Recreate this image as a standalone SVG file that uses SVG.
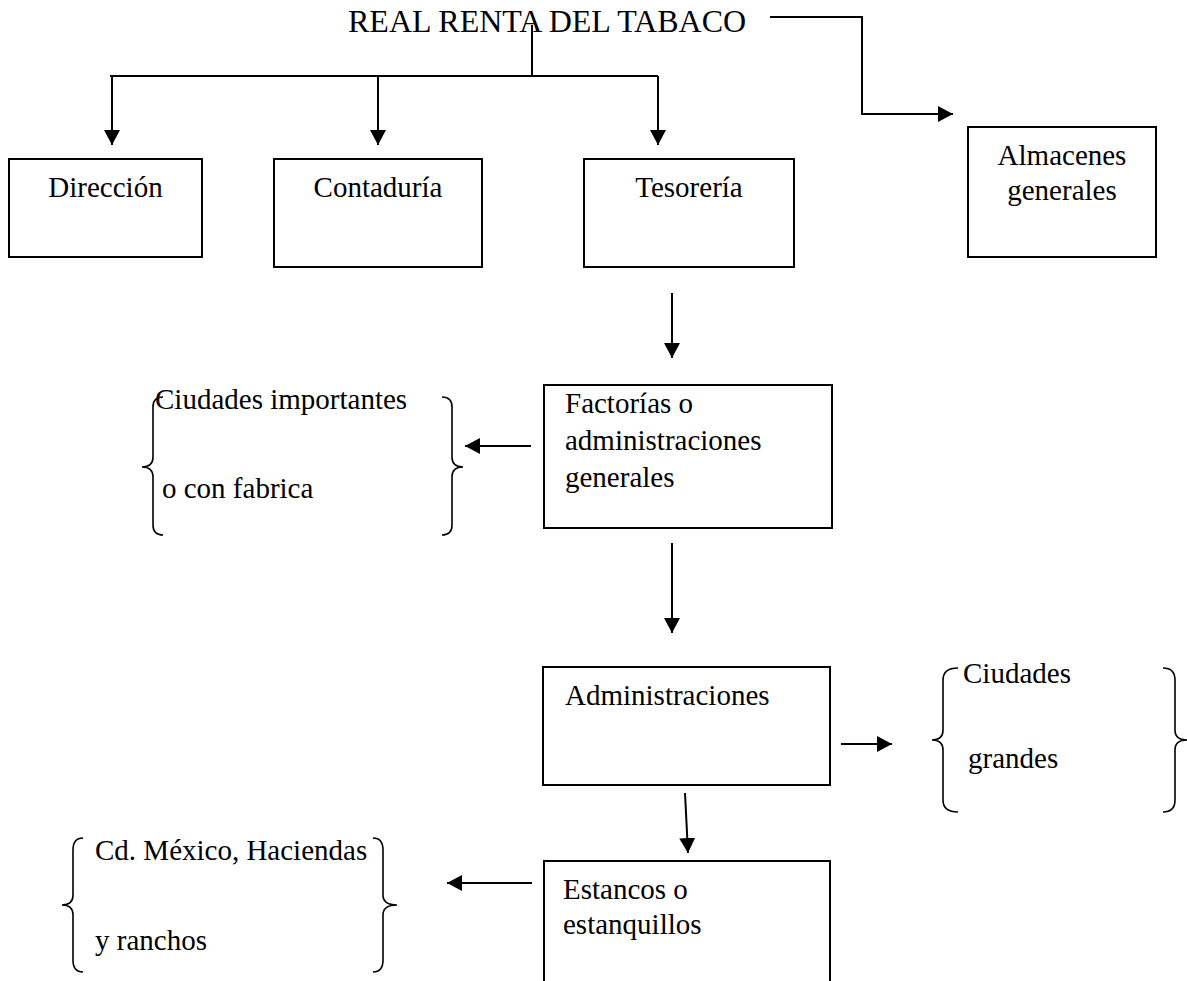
<svg xmlns="http://www.w3.org/2000/svg" width="1187" height="981" viewBox="0 0 1187 981">
<defs>
<marker id="ah" markerUnits="userSpaceOnUse" markerWidth="16" markerHeight="16" refX="15" refY="8" orient="auto">
<path d="M0,0 L15,8 L0,16 z" fill="#000"/>
</marker>
<style>
text{font-family:"Liberation Serif","Times New Roman",serif;font-size:29px;fill:#000}
.box{fill:#fff;stroke:#000;stroke-width:2}
.c{fill:none;stroke:#000;stroke-width:2}
.a{fill:none;stroke:#000;stroke-width:2;marker-end:url(#ah)}
.br{fill:none;stroke:#000;stroke-width:1.6}
</style>
</defs>
<rect width="1187" height="981" fill="#fff"/>
<g id="connectors">
<path class="c" d="M532,25 V76 M110,76 H658"/>
<path class="a" d="M112,76 V145"/>
<path class="a" d="M378,76 V145"/>
<path class="a" d="M658,76 V145"/>
<path class="a" d="M770,17 H862 V114 H953"/>
<path class="a" d="M672,293 V358"/>
<path class="a" d="M531,446 H465"/>
<path class="a" d="M672,543 V633"/>
<path class="a" d="M841,744 H892"/>
<path class="a" d="M685,793 L688,853"/>
<path class="a" d="M532,883 H447"/>
</g>
<g id="title"><text x="348" y="32" style="font-size:32px">REAL RENTA DEL TABACO</text></g>
<g id="direccion"><rect class="box" x="9" y="159" width="193" height="98"/><text x="105.5" y="197" text-anchor="middle">Dirección</text></g>
<g id="contaduria"><rect class="box" x="274" y="159" width="208" height="108"/><text x="378" y="197" text-anchor="middle">Contaduría</text></g>
<g id="tesoreria"><rect class="box" x="584" y="159" width="210" height="108"/><text x="689" y="197" text-anchor="middle">Tesorería</text></g>
<g id="almacenes"><rect class="box" x="968" y="127" width="188" height="130"/><text x="1062" y="165" text-anchor="middle">Almacenes</text><text x="1062" y="200" text-anchor="middle">generales</text></g>
<g id="factorias"><rect class="box" x="544" y="385" width="288" height="143"/><text x="565" y="413">Factorías o</text><text x="565" y="450">administraciones</text><text x="565" y="487">generales</text></g>
<g id="ciudades-importantes">
<path class="br" d="M163,397 Q153,397 153,407 L153,457 Q153,467 142,467 Q153,467 153,477 L153,525 Q153,535 163,535"/>
<path class="br" d="M442,397 Q452,397 452,407 L452,457 Q452,467 463,467 Q452,467 452,477 L452,525 Q452,535 442,535"/>
<text x="155" y="409">Ciudades importantes</text><text x="162" y="498">o con fabrica</text>
</g>
<g id="administraciones"><rect class="box" x="543" y="667" width="287" height="118"/><text x="565" y="705">Administraciones</text></g>
<g id="ciudades-grandes">
<path class="br" d="M958,668 Q943,668 943,680 L943,730 Q943,740 932,740 Q943,740 943,750 L943,800 Q943,812 958,812"/>
<path class="br" d="M1163,668 Q1175,668 1175,680 L1175,730 Q1175,740 1187,740 Q1175,740 1175,750 L1175,800 Q1175,812 1163,812"/>
<text x="963" y="683">Ciudades</text><text x="968" y="768">grandes</text>
</g>
<g id="estancos"><rect class="box" x="544" y="861" width="286" height="140"/><text x="563" y="899">Estancos o</text><text x="563" y="934">estanquillos</text></g>
<g id="cd-mexico">
<path class="br" d="M83,838 Q73,838 73,850 L73,895 Q73,905 62,905 Q73,905 73,915 L73,960 Q73,972 83,972"/>
<path class="br" d="M373,838 Q383,838 383,850 L383,895 Q383,905 397,905 Q383,905 383,915 L383,960 Q383,972 373,972"/>
<text x="95" y="860">Cd. México, Haciendas</text><text x="95" y="950">y ranchos</text>
</g>
</svg>
